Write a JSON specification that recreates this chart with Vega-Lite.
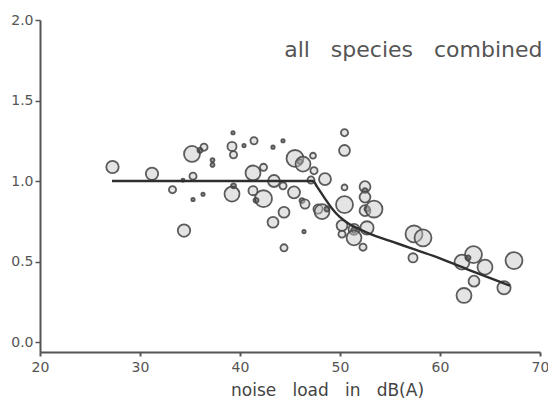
{
  "$schema": "https://vega.github.io/schema/vega-lite/v6.json",
  "width": 500,
  "height": 332,
  "autosize": "none",
  "padding": {"left": 40, "top": 20, "right": 8, "bottom": 47},
  "background": "white",
  "config": {
    "view": {"stroke": null},
    "font": "DejaVu Sans"
  },
  "datasets": {
    "obs": [
      {"x": 27.25, "y": 1.087, "w": 4.8},
      {"x": 31.2, "y": 1.045, "w": 4.8},
      {"x": 33.25, "y": 0.946, "w": 1.6},
      {"x": 34.4, "y": 0.692, "w": 4.8},
      {"x": 34.3, "y": 1.005, "w": 0.3},
      {"x": 35.2, "y": 1.168, "w": 8},
      {"x": 35.3, "y": 1.03, "w": 1.6},
      {"x": 35.3, "y": 0.885, "w": 0.35},
      {"x": 36.3, "y": 0.918, "w": 0.35},
      {"x": 36.4, "y": 1.21, "w": 1.6},
      {"x": 36.0, "y": 1.19, "w": 0.8},
      {"x": 37.25, "y": 1.13, "w": 0.5},
      {"x": 37.25, "y": 1.1, "w": 0.5},
      {"x": 39.3, "y": 1.30, "w": 0.35},
      {"x": 39.2, "y": 1.215, "w": 2.6},
      {"x": 39.35, "y": 1.163, "w": 1.6},
      {"x": 40.4, "y": 1.22, "w": 0.35},
      {"x": 41.4, "y": 1.25, "w": 1.6},
      {"x": 39.2, "y": 0.919, "w": 7},
      {"x": 39.35, "y": 0.97, "w": 0.8},
      {"x": 41.3, "y": 1.05, "w": 7},
      {"x": 42.35, "y": 1.085, "w": 1.6},
      {"x": 41.3, "y": 0.94, "w": 2.6},
      {"x": 42.35, "y": 0.89, "w": 9},
      {"x": 41.6, "y": 0.88, "w": 0.8},
      {"x": 43.4, "y": 1.0, "w": 4.5},
      {"x": 43.3, "y": 1.21, "w": 0.35},
      {"x": 44.3, "y": 1.25, "w": 0.35},
      {"x": 44.3, "y": 0.97, "w": 1.6},
      {"x": 45.4, "y": 0.93, "w": 4.5},
      {"x": 45.5, "y": 1.14, "w": 9},
      {"x": 46.0, "y": 1.12, "w": 0.8},
      {"x": 46.3, "y": 1.105, "w": 7},
      {"x": 47.3, "y": 1.157, "w": 1.1},
      {"x": 47.4, "y": 1.064, "w": 1.6},
      {"x": 47.1, "y": 1.006, "w": 1.6},
      {"x": 48.5, "y": 1.012, "w": 4.5},
      {"x": 46.2, "y": 0.878, "w": 0.8},
      {"x": 46.5, "y": 0.857, "w": 2.6},
      {"x": 43.3, "y": 0.744, "w": 3.7},
      {"x": 44.4, "y": 0.806, "w": 3.7},
      {"x": 44.4, "y": 0.585, "w": 1.6},
      {"x": 46.4, "y": 0.686, "w": 0.35},
      {"x": 47.8, "y": 0.826, "w": 2.6},
      {"x": 48.2, "y": 0.81, "w": 7},
      {"x": 48.7, "y": 0.826, "w": 0.8},
      {"x": 50.45, "y": 1.30, "w": 1.6},
      {"x": 50.45, "y": 1.19, "w": 3.7},
      {"x": 50.45, "y": 0.96, "w": 1.1},
      {"x": 50.45, "y": 0.853, "w": 9},
      {"x": 50.2, "y": 0.723, "w": 3.7},
      {"x": 50.2, "y": 0.67, "w": 1.6},
      {"x": 51.4, "y": 0.70, "w": 3.7},
      {"x": 51.4, "y": 0.696, "w": 0.9},
      {"x": 51.4, "y": 0.647, "w": 7},
      {"x": 52.5, "y": 0.965, "w": 3.7},
      {"x": 52.5, "y": 0.94, "w": 0.8},
      {"x": 52.5, "y": 0.90, "w": 3.7},
      {"x": 52.5, "y": 0.816, "w": 3.7},
      {"x": 52.7, "y": 0.826, "w": 0.8},
      {"x": 53.4, "y": 0.826, "w": 9},
      {"x": 52.7, "y": 0.709, "w": 5.5},
      {"x": 52.3, "y": 0.589, "w": 1.6},
      {"x": 57.4, "y": 0.671, "w": 9},
      {"x": 58.3, "y": 0.647, "w": 9},
      {"x": 57.3, "y": 0.523, "w": 2.6},
      {"x": 62.2, "y": 0.496, "w": 7},
      {"x": 63.35, "y": 0.543, "w": 9},
      {"x": 62.8, "y": 0.523, "w": 0.8},
      {"x": 64.5, "y": 0.465, "w": 7},
      {"x": 63.4, "y": 0.378, "w": 3.7},
      {"x": 62.4, "y": 0.289, "w": 7},
      {"x": 66.4, "y": 0.337, "w": 5.5},
      {"x": 67.4, "y": 0.506, "w": 9}
    ],
    "fit": [
      {"x": 27.2, "y": 1.0},
      {"x": 47.3, "y": 1.0},
      {"x": 47.7, "y": 0.965},
      {"x": 48.4, "y": 0.9},
      {"x": 49.2, "y": 0.83},
      {"x": 50.0, "y": 0.775},
      {"x": 51.0, "y": 0.73},
      {"x": 52.0, "y": 0.70},
      {"x": 53.0, "y": 0.672},
      {"x": 55.0, "y": 0.628},
      {"x": 57.0, "y": 0.585},
      {"x": 60.0, "y": 0.52},
      {"x": 63.4, "y": 0.435},
      {"x": 67.0, "y": 0.35}
    ],
    "label": [
      {"x": 70.25, "y": 1.77, "text": "all \u00a0 species \u00a0 combined"}
    ]
  },
  "layer": [
    {
      "data": {"name": "obs"},
      "mark": {"type": "circle", "stroke": "#4a4a4a", "strokeWidth": 1.8, "fillOpacity": 0.45, "strokeOpacity": 0.9},
      "encoding": {
        "x": {
          "field": "x", "type": "quantitative",
          "scale": {"domain": [20, 70], "nice": false, "zero": false},
          "axis": {
            "values": [20, 30, 40, 50, 60, 70],
            "format": "d",
            "grid": false,
            "domainColor": "#555", "domainWidth": 2,
            "tickColor": "#555", "tickWidth": 2, "tickSize": 4,
            "labelFont": "DejaVu Sans", "labelFontSize": 14, "labelColor": "#555",
            "labelPadding": 4,
            "labelFlush": false,
            "title": "noise \u00a0 load \u00a0 in \u00a0 dB(A)",
            "titleFont": "DejaVu Sans", "titleFontSize": 17, "titleFontWeight": "normal",
            "titleColor": "#444",
            "titleAnchor": null,
            "titleAlign": "center",
            "titleBaseline": "alphabetic",
            "titleX": 287, "titleY": 43
          }
        },
        "y": {
          "field": "y", "type": "quantitative",
          "scale": {"domain": [-0.062, 2.0], "nice": false, "zero": false},
          "axis": {
            "values": [0, 0.5, 1.0, 1.5, 2.0],
            "format": ".1f",
            "grid": false,
            "domainColor": "#555", "domainWidth": 2,
            "tickColor": "#555", "tickWidth": 1.5, "tickSize": 5,
            "labelFont": "DejaVu Sans", "labelFontSize": 14, "labelColor": "#555",
            "labelPadding": 2,
            "labelFlush": false,
            "title": null
          }
        },
        "size": {
          "field": "w", "type": "quantitative",
          "scale": {"domain": [0, 10], "range": [0, 320], "zero": true},
          "legend": null
        },
        "fill": {
          "condition": {"test": "datum.w < 1", "value": "#2e2e2e"},
          "value": "#c4c4c4"
        }
      }
    },
    {
      "data": {"name": "fit"},
      "mark": {"type": "line", "color": "#2e2e2e", "strokeWidth": 2.4, "interpolate": "monotone"},
      "encoding": {
        "x": {"field": "x", "type": "quantitative"},
        "y": {"field": "y", "type": "quantitative"}
      }
    },
    {
      "data": {"name": "label"},
      "mark": {"type": "text", "align": "right", "baseline": "alphabetic", "fontSize": 22, "font": "DejaVu Sans", "color": "#555"},
      "encoding": {
        "x": {"field": "x", "type": "quantitative"},
        "y": {"field": "y", "type": "quantitative"},
        "text": {"field": "text"}
      }
    }
  ]
}
